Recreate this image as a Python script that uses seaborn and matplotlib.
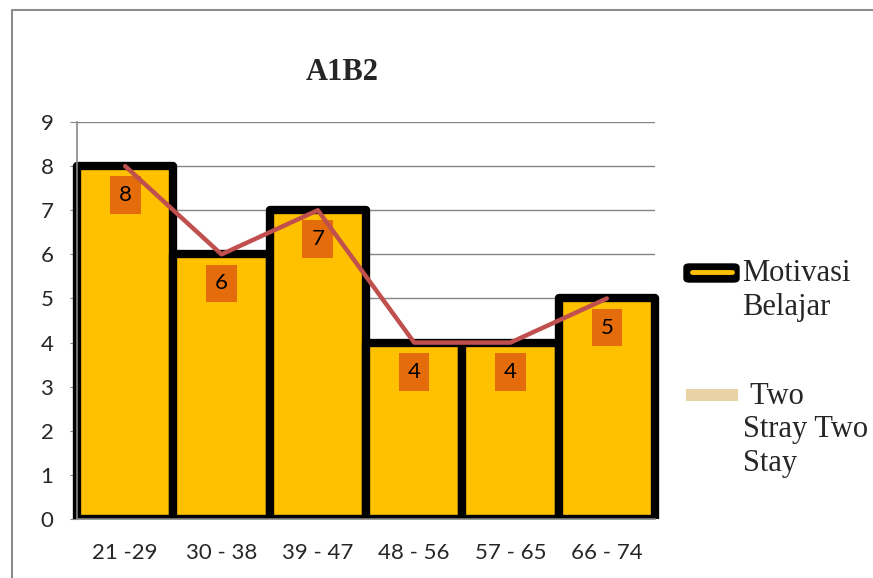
import numpy as np
import pandas as pd
import seaborn as sns
import matplotlib
matplotlib.use("Agg")
import matplotlib.pyplot as plt
from matplotlib.patches import FancyBboxPatch, Rectangle
from matplotlib.lines import Line2D
from matplotlib.transforms import Bbox, TransformedBbox

# data
kelas = ["21 -29", "30 - 38", "39 - 47", "48 - 56", "57 - 65", "66 - 74"]
frekuensi = [8, 6, 7, 4, 4, 5]

sns.set_style("white")
plt.rcParams["font.family"] = ["Lato", "DejaVu Sans"]

df = pd.DataFrame({"Kelas": kelas, "Frekuensi": frekuensi})

W, H = 873, 578
fig = plt.figure(figsize=(W / 100, H / 100), dpi=100)
ax = fig.add_axes([77 / W, (H - 519) / H, (655 - 77) / W, (519 - 122) / H])

grid_c = "#868686"
ax.set_ylim(0, 9)
ax.set_yticks(range(0, 10))
ax.yaxis.grid(True, color=grid_c, linewidth=1)
ax.set_axisbelow(True)

sns.barplot(data=df, x="Kelas", y="Frekuensi", color="#FFC000", saturation=1,
            width=1.0, edgecolor="black", linewidth=6, ax=ax, zorder=2)
# let the outer bar borders show, but keep the bottom cut at the axis
clip = TransformedBbox(Bbox([[-0.02, 0], [1.02, 1.1]]), ax.transAxes)
for p in ax.patches:
    p.set_joinstyle("round")
    p.set_clip_box(clip)

# frequency polygon
x = np.arange(len(kelas))
ax.plot(x, frekuensi, color="#C0504D", linewidth=3.2, zorder=6,
        solid_capstyle="round", solid_joinstyle="round")

# data labels
for xi, v in zip(x, frekuensi):
    ax.text(xi, v - 0.66, str(v), ha="center", va="center", fontsize=16,
            color="black", zorder=5,
            bbox=dict(boxstyle="square,pad=0.4", facecolor="#E46C0A",
                      edgecolor="none"))

ax.set_xlim(-0.5, len(kelas) - 0.5)
ax.set_xlabel("")
ax.set_ylabel("")
for s in ["top", "right"]:
    ax.spines[s].set_visible(False)
for s in ["left", "bottom"]:
    ax.spines[s].set_color(grid_c)
    ax.spines[s].set_linewidth(1.2)
    ax.spines[s].set_zorder(7)

ax.set_xticks(np.arange(-0.5, len(kelas)), minor=True)
ax.tick_params(axis="x", which="major", length=0, pad=17, labelsize=16)
ax.tick_params(axis="x", which="minor", length=5, color=grid_c, direction="out")
ax.tick_params(axis="y", length=5, color=grid_c, direction="out", pad=12,
               labelsize=16, left=True)

# title
fig.text(342 / W, 1 - 72 / H, "A1B2", ha="center", va="center",
         fontsize=22, fontweight="bold", family="Liberation Serif")

# legend drawn by hand on the figure
fig.add_artist(FancyBboxPatch((684 / W, 1 - 282 / H), 55 / W, 18 / H,
                              boxstyle="round,pad=0,rounding_size=0.006",
                              facecolor="black", edgecolor="black",
                              transform=fig.transFigure))
fig.add_artist(Line2D([692 / W, 732 / W], [1 - 272 / H, 1 - 272 / H],
                      color="#FFC000", linewidth=3.5, transform=fig.transFigure))
fig.text(742 / W, 1 - 259 / H, "Motivasi\nBelajar", ha="left", va="top",
         fontsize=22, family="Liberation Serif", linespacing=1.25)

fig.add_artist(Rectangle((686 / W, 1 - 401 / H), 52 / W, 12 / H,
                         facecolor="#E9D3A6", edgecolor="none",
                         transform=fig.transFigure))
fig.text(743 / W, 1 - 382 / H, " Two\nStray Two\nStay", ha="left", va="top",
         fontsize=22, family="Liberation Serif", linespacing=1.2)

# chart frame
fig.add_artist(Line2D([11.5 / W, 11.5 / W, 1.0], [0, 1 - 10 / H, 1 - 10 / H],
                      color="#8C8C8C", linewidth=1.5, transform=fig.transFigure))

fig.savefig("out.png", dpi=100)
